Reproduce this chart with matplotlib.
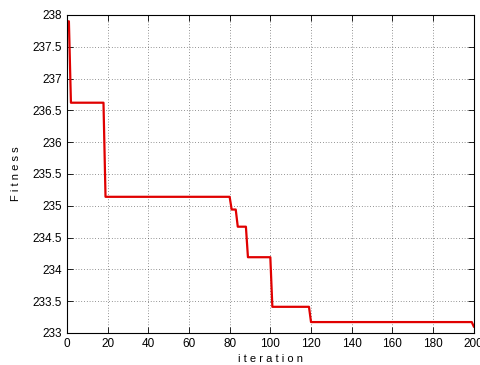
import numpy as np
import matplotlib
matplotlib.use("Agg")
import matplotlib.pyplot as plt

# best fitness at each change point (iteration, value)
iterations = [0, 1, 2, 18, 19, 80, 81, 83, 84, 88, 89, 100, 101, 119, 120, 199, 200]
fitness = [237.9, 237.9, 236.62, 236.62, 235.14, 235.14, 234.94, 234.94, 234.67, 234.67,
           234.19, 234.19, 233.41, 233.41, 233.17, 233.17, 233.1]

x_ticks = list(range(0, 201, 20))
y_ticks = [233, 233.5, 234, 234.5, 235, 235.5, 236, 236.5, 237, 237.5, 238]

plt.rcParams['font.family'] = ['Liberation Sans', 'DejaVu Sans']

fig = plt.figure(figsize=(4.81, 3.65), dpi=100)
ax = fig.add_axes([0.139, 0.088, 0.846, 0.871])

ax.plot(iterations, fitness, color='#e00000', linewidth=1.6)

ax.set_xlim(0, 200)
ax.set_ylim(233, 238)
ax.set_xticks(x_ticks)
ax.set_yticks(y_ticks)
ax.set_yticklabels([f"{v:g}" for v in y_ticks])
ax.tick_params(direction='in', length=4, labelsize=8.5, top=True, right=True, width=0.6)
ax.grid(True, linestyle=(0, (1, 3)), color='#333333', linewidth=0.5)
for s in ax.spines.values():
    s.set_linewidth(0.8)

ax.set_xlabel("i t e r a t i o n", fontsize=8, labelpad=3)
ax.set_ylabel("F i t n e s s", fontsize=8, labelpad=8)

fig.savefig("out.png", dpi=100)
